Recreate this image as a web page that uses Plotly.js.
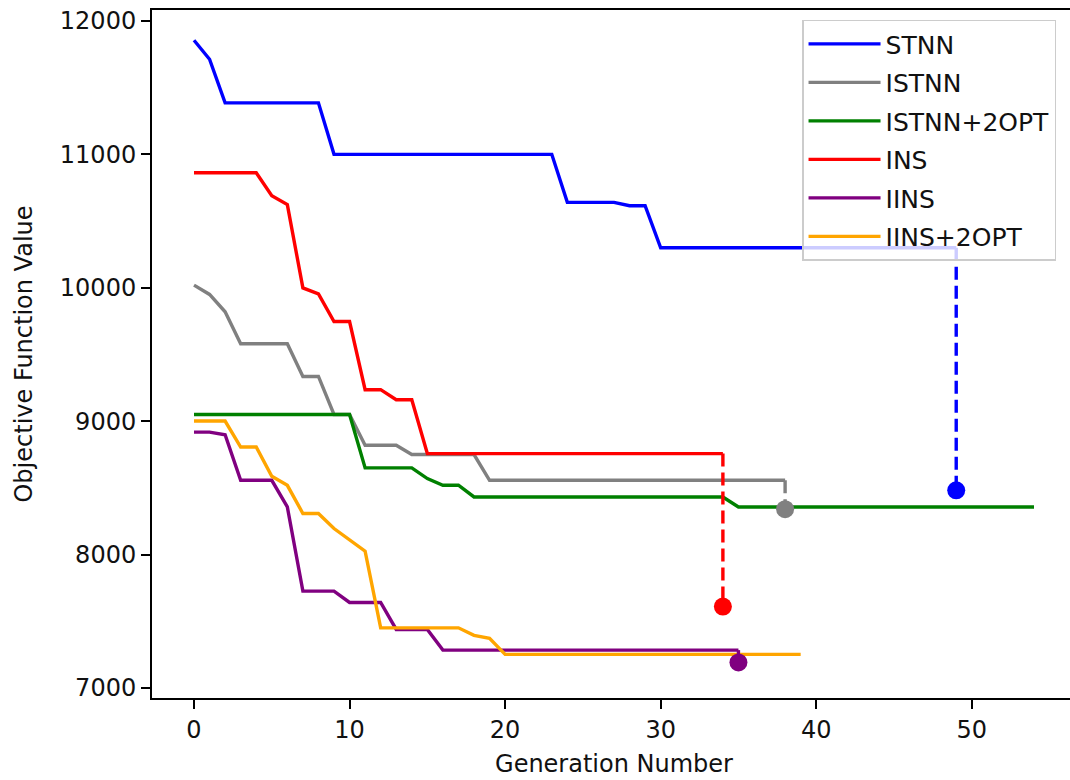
<!DOCTYPE html>
<html>
<head>
<meta charset="utf-8">
<script src="https://cdn.plot.ly/plotly-3.0.1.min.js"></script>
<style>
  html, body { margin: 0; padding: 0; background: #fff; overflow: hidden; }
  #chart { width: 1080px; height: 780px; }
</style>
</head>
<body>
<div id="chart"></div>
<script>
// Best objective value per generation for each construction heuristic
const seriesNames = ['STNN', 'ISTNN', 'ISTNN+2OPT', 'INS', 'IINS', 'IINS+2OPT'];
const seriesColors = ['#0000ff', '#808080', '#008000', '#ff0000', '#800080', '#ffa500'];

const stnn = [11855, 11713, 11386, 11386, 11386, 11386, 11386, 11386, 11386,
  11000, 11000, 11000, 11000, 11000, 11000, 11000, 11000, 11000, 11000, 11000, 11000, 11000, 11000, 11000,
  10640, 10640, 10640, 10640, 10615, 10615,
  10300, 10300, 10300, 10300, 10300, 10300, 10300, 10300, 10300, 10300,
  10300, 10300, 10300, 10300, 10300, 10300, 10300, 10300, 10300, 10300];

const istnn = [10020, 9950, 9820, 9580, 9580, 9580, 9580, 9335, 9335, 9050, 9050,
  8820, 8820, 8820, 8750, 8750, 8750, 8750, 8750,
  8557, 8557, 8557, 8557, 8557, 8557, 8557, 8557, 8557, 8557,
  8557, 8557, 8557, 8557, 8557, 8557, 8557, 8557, 8557, 8557];

const istnn2opt = [9050, 9050, 9050, 9050, 9050, 9050, 9050, 9050, 9050, 9050, 9050,
  8650, 8650, 8650, 8650, 8570, 8520, 8520,
  8432, 8432, 8432, 8432, 8432, 8432, 8432, 8432, 8432, 8432, 8432, 8432, 8432, 8432, 8432, 8432, 8432,
  8357, 8357, 8357, 8357, 8357, 8357, 8357, 8357, 8357, 8357,
  8357, 8357, 8357, 8357, 8357, 8357, 8357, 8357, 8357, 8357];

const ins = [10862, 10862, 10862, 10862, 10862, 10690, 10623, 9999, 9954, 9747, 9747,
  9236, 9236, 9161, 9161,
  8757, 8757, 8757, 8757, 8757, 8757, 8757, 8757, 8757, 8757,
  8757, 8757, 8757, 8757, 8757, 8757, 8757, 8757, 8757, 8757];

const iins = [8918, 8918, 8898, 8557, 8557, 8557, 8357, 7726, 7726, 7726,
  7641, 7641, 7641, 7439, 7439, 7439,
  7284, 7284, 7284, 7284, 7284, 7284, 7284, 7284, 7284, 7284,
  7284, 7284, 7284, 7284, 7284, 7284, 7284, 7284, 7284, 7284];

const iins2opt = [9001, 9001, 9001, 8806, 8806, 8587, 8519, 8308, 8308, 8195, 8108, 8025,
  7451, 7451, 7451, 7451, 7451, 7451, 7395, 7372,
  7252, 7252, 7252, 7252, 7252, 7252, 7252, 7252, 7252, 7252,
  7252, 7252, 7252, 7252, 7252, 7252, 7252, 7252, 7252, 7252];

// Final refined result for the runs that get a last improvement step
const finalNames = ['STNN', 'ISTNN', 'INS', 'IINS'];
const finalGen = [49, 38, 34, 35];
const finalValue = [8482, 8340, 7610, 7192];

const xTicks = [0, 10, 20, 30, 40, 50];
const yTicks = [7000, 8000, 9000, 10000, 11000, 12000];

const allSeries = [stnn, istnn, istnn2opt, ins, iins, iins2opt];
const FONT = 'DejaVu Sans, Verdana, sans-serif';
const TXT = '#111111';

const traces = [];
allSeries.forEach((vals, k) => {
  traces.push({
    type: 'scatter', mode: 'lines',
    name: seriesNames[k],
    x: vals.map((_, i) => i), y: vals,
    line: { color: seriesColors[k], width: 3.4, shape: 'linear' },
    legendgroup: 'g' + k,
    hoverinfo: 'skip'
  });
});

// Dashed drop from the last generation to the refined value, then the end marker
finalNames.forEach((nm, j) => {
  const k = seriesNames.indexOf(nm);
  const vals = allSeries[k];
  traces.push({
    type: 'scatter', mode: 'lines',
    x: [finalGen[j], finalGen[j]], y: [vals[vals.length - 1], finalValue[j]],
    line: { color: seriesColors[k], width: 3.4, dash: '13px,6px' },
    showlegend: false, hoverinfo: 'skip'
  });
});
finalNames.forEach((nm, j) => {
  const k = seriesNames.indexOf(nm);
  traces.push({
    type: 'scatter', mode: 'markers',
    x: [finalGen[j]], y: [finalValue[j]],
    marker: { color: seriesColors[k], size: 18, line: { width: 0 } },
    showlegend: false, hoverinfo: 'skip'
  });
});

const layout = {
  width: 1080, height: 780,
  margin: { l: 152, r: 4, t: 10, b: 82 },
  paper_bgcolor: '#ffffff', plot_bgcolor: '#ffffff',
  font: { family: FONT, size: 24, color: TXT },
  showlegend: true,
  legend: {
    x: 0.7035, y: 0.986, xanchor: 'left', yanchor: 'top',
    bgcolor: 'rgba(255,255,255,0.8)', bordercolor: '#cccccc', borderwidth: 1.5,
    font: { family: FONT, size: 25, color: TXT },
    traceorder: 'grouped', tracegroupgap: 3,
    itemwidth: 72
  },
  xaxis: {
    range: [-2.7, 56.7],
    tickvals: xTicks, ticktext: xTicks.map(String),
    showgrid: false, zeroline: false,
    showline: true, mirror: true, linecolor: '#000', linewidth: 2,
    ticks: 'outside', ticklen: 9, tickwidth: 2, tickcolor: '#000',
    tickfont: { family: FONT, size: 24, color: TXT },
    title: { text: 'Generation Number', font: { family: FONT, size: 24, color: TXT }, standoff: 12 }
  },
  yaxis: {
    range: [6925, 12082],
    tickvals: yTicks, ticktext: yTicks.map(String),
    showgrid: false, zeroline: false,
    showline: true, mirror: true, linecolor: '#000', linewidth: 2,
    ticks: 'outside', ticklen: 9, tickwidth: 2, tickcolor: '#000',
    tickfont: { family: FONT, size: 24, color: TXT },
    title: { text: 'Objective Function Value', font: { family: FONT, size: 24, color: TXT }, standoff: 20 }
  }
};

Plotly.newPlot('chart', traces, layout, { staticPlot: true, displayModeBar: false });
</script>
</body>
</html>
